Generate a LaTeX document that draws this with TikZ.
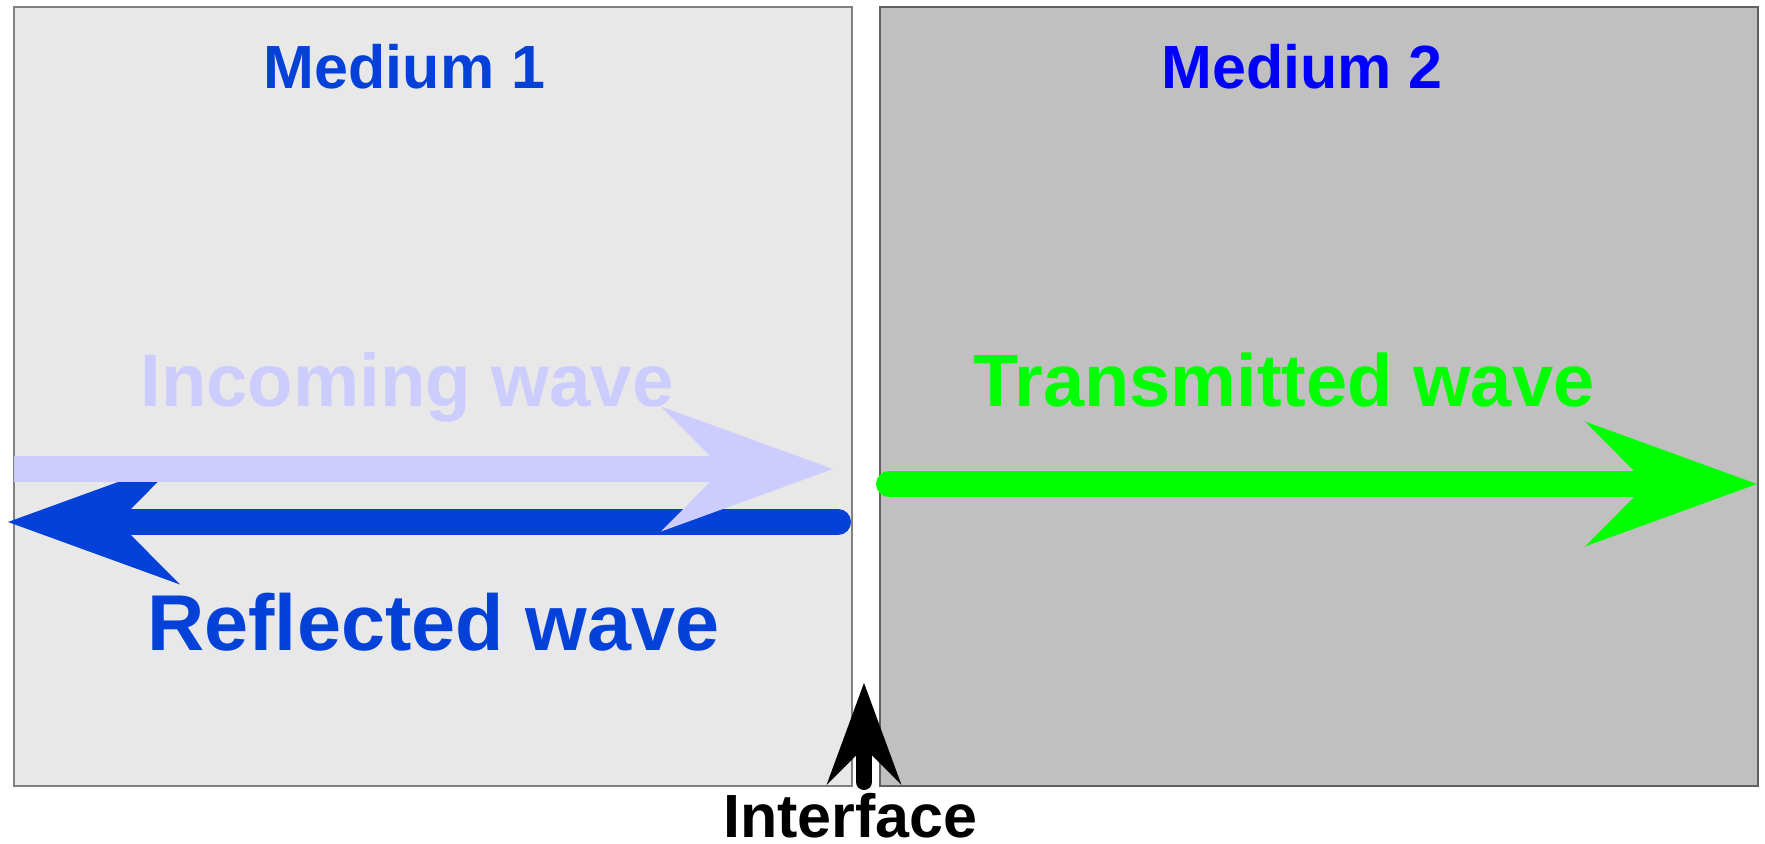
\documentclass[tikz,border=0pt]{standalone}
\usepackage{fontspec}
\setmainfont{Liberation Sans}
\usepackage{xcolor}
\usetikzlibrary{arrows.meta}

\definecolor{paleside}{HTML}{E8E8E8}
\definecolor{darkside}{HTML}{C0C0C0}
\definecolor{paleedge}{HTML}{808080}
\definecolor{darkedge}{HTML}{606060}
\definecolor{reflblue}{HTML}{0441D9}
\definecolor{incblue}{HTML}{CCCCFF}
\definecolor{transgreen}{HTML}{00FF00}

\tikzset{
  wave/.style={line width=13pt},
  bighead/.style={-{Stealth[length=86pt,width=62.5pt,inset=31pt,line width=0pt]}},
  smallhead/.style={-{Stealth[length=51pt,width=37.5pt,inset=18.75pt,line width=0pt]}},
  wavetext/.style={inner sep=0pt}
}

\begin{document}
\begin{tikzpicture}[x=0.5pt,y=0.5pt,yscale=-1,xscale=1]
		\useasboundingbox (0,0) rectangle (1765,844);
		
		%Shape: Rectangle [medium 1]
		\draw [draw=paleedge, fill=paleside, line width=1pt] (14,7.5) -- (852,7.5) -- (852,786) -- (14,786) -- cycle ;
		%Shape: Rectangle [medium 2]
		\draw [draw=darkedge, fill=darkside, line width=1pt] (880,7) -- (1758,7) -- (1758,786) -- (880,786) -- cycle ;
		
		% end points of the waves
		\coordinate (refl-start) at (838,522);
		\coordinate (refl-end) at (8,522);
		\coordinate (inc-start) at (14,469);
		\coordinate (inc-end) at (833,469);
		\coordinate (trans-start) at (889,484);
		\coordinate (trans-end) at (1757,484);
		\coordinate (intf-start) at (864,782);
		\coordinate (intf-end) at (864,683);
		
		%Arrows [reflected, incoming, transmitted]
		\draw [wave, bighead, draw=reflblue, fill=reflblue, line cap=round] (refl-start) -- (refl-end) ;
		\draw [wave, bighead, draw=incblue, fill=incblue] (inc-start) -- (inc-end) ;
		\draw [wave, bighead, draw=transgreen, fill=transgreen, line cap=round] (trans-start) -- (trans-end) ;
		%Arrow [interface]
		\draw [line width=8pt, smallhead, line cap=round] (intf-start) -- (intf-end) ;
		
		% Text Node
		\draw (404.5,89) node (lbl-m1) [wavetext, anchor=base, text=reflblue, font=\bfseries\fontsize{30.5}{37}\selectfont] {Medium 1};
		% Text Node
		\draw (1302,89) node (lbl-m2) [wavetext, anchor=base, text=blue, font=\bfseries\fontsize{30.5}{37}\selectfont] {Medium 2};
		% Text Node
		\draw (140,406) node (lbl-inc) [wavetext, anchor=base west, text=incblue, font=\bfseries\fontsize{37.2}{45}\selectfont] {Incoming wave};
		% Text Node
		\draw (973,406) node (lbl-trans) [wavetext, anchor=base west, text=transgreen, font=\bfseries\fontsize{37}{44}\selectfont] {Transmitted wave};
		% Text Node
		\draw (147,650) node (lbl-refl) [wavetext, anchor=base west, text=reflblue, font=\bfseries\fontsize{39.6}{48}\selectfont] {Reflected wave};
		% Text Node
		\draw (723,837) node (lbl-intf) [wavetext, anchor=base west, font=\bfseries\fontsize{30.5}{36}\selectfont] {Interface};
		
\end{tikzpicture}
\end{document}
